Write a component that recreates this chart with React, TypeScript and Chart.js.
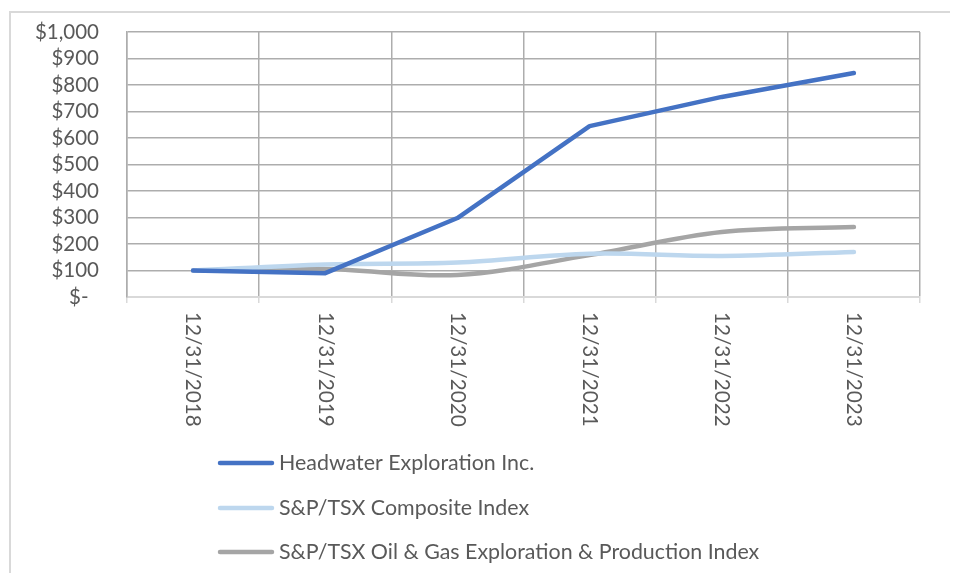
import React, { useEffect, useRef } from "react";
import { Chart, registerables } from "chart.js";

Chart.register(...registerables);

const categories = ["12/31/2018", "12/31/2019", "12/31/2020", "12/31/2021", "12/31/2022", "12/31/2023"];
const headwater = [100, 90, 298, 645, 755, 845];
const composite = [100, 123, 130, 163, 155, 170];
const oilGas = [100, 106, 83, 158, 245, 264];
const seriesNames = [
  "Headwater Exploration Inc.",
  "S&P/TSX Composite Index",
  "S&P/TSX Oil & Gas Exploration & Production Index",
];
const seriesColors = ["#4472C4", "#BDD7EE", "#A5A5A5"];
const yTickLabels = ["$-  ", "$100", "$200", "$300", "$400", "$500", "$600", "$700", "$800", "$900", "$1,000"];

const FONT = "Lato";
const TEXT = "#595959";

const customPlugin = {
  id: "customDraw",
  beforeDraw(chart: any) {
    const ctx = chart.ctx;
    ctx.save();
    ctx.strokeStyle = "#D9D9D9";
    ctx.lineWidth = 2;
    ctx.beginPath();
    ctx.moveTo(2, chart.height);
    ctx.lineTo(2, 4);
    ctx.lineTo(chart.width, 4);
    ctx.stroke();
    ctx.restore();
  },
  afterDraw(chart: any) {
    const ctx = chart.ctx;
    const xs = chart.scales.x;
    ctx.save();
    ctx.fillStyle = TEXT;
    ctx.font = `20.7px ${FONT}`;
    categories.forEach((lab, i) => {
      const x = xs.getPixelForValue(i);
      ctx.save();
      ctx.translate(x, xs.top + 15);
      ctx.rotate(Math.PI / 2);
      ctx.textAlign = "left";
      ctx.textBaseline = "middle";
      ctx.fillText(lab, 0, 0);
      ctx.restore();
    });
    const rows = [455, 500, 544];
    ctx.font = `21.4px ${FONT}`;
    chart.data.datasets.forEach((ds: any, i: number) => {
      const y = rows[i];
      ctx.strokeStyle = ds.borderColor;
      ctx.lineWidth = 4.5;
      ctx.lineCap = "round";
      ctx.beginPath();
      ctx.moveTo(212, y);
      ctx.lineTo(264, y);
      ctx.stroke();
      ctx.textAlign = "left";
      ctx.textBaseline = "middle";
      ctx.fillText(ds.label, 271, y);
    });
    ctx.restore();
  },
};

export default function App() {
  const ref = useRef<HTMLCanvasElement>(null);
  useEffect(() => {
    if (!ref.current) return;
    const data = [headwater, composite, oilGas];
    const chart = new Chart(ref.current, {
      type: "line",
      data: {
        labels: categories,
        datasets: data.map((d, i) => ({
          label: seriesNames[i],
          data: d,
          borderColor: seriesColors[i],
          backgroundColor: seriesColors[i],
          borderWidth: 4.5,
          pointRadius: 0,
          borderCapStyle: "round" as const,
          borderJoinStyle: "round" as const,
          tension: i === 0 ? 0 : 0.35,
        })),
      },
      options: {
        animation: false,
        responsive: true,
        maintainAspectRatio: false,
        layout: { padding: { top: 24, right: 30, left: 0, bottom: 0 } },
        plugins: { legend: { display: false }, tooltip: { enabled: false } },
        scales: {
          x: {
            type: "category",
            offset: true,
            grid: {
              offset: true,
              color: "#ADADAD",
              lineWidth: 1.5,
              tickColor: "#D9D9D9",
              tickLength: 6,
            },
            border: { color: "#D9D9D9", width: 2 },
            ticks: { display: false },
            afterFit: (s: any) => {
              s.height = 276;
              s.paddingLeft = 0;
              s.paddingRight = 0;
            },
          },
          y: {
            min: 0,
            max: 1000,
            grid: {
              drawTicks: false,
              color: (c: any) => (c.tick && c.tick.value === 0 ? "rgba(0,0,0,0)" : "#ADADAD"),
              lineWidth: 1.5,
            },
            border: { color: "#ADADAD", width: 1.5 },
            ticks: {
              stepSize: 100,
              autoSkip: false,
              padding: 28,
              color: TEXT,
              font: { family: FONT, size: 20.5 },
              callback: (v: any) => yTickLabels[Math.round(Number(v) / 100)],
            },
            afterFit: (s: any) => {
              s.width = 119;
              s.paddingTop = 0;
              s.paddingBottom = 0;
            },
          },
        },
      },
      plugins: [customPlugin],
    });
    return () => chart.destroy();
  }, []);
  return (
    <div style={{ width: 942, height: 565, position: "relative" }}>
      <canvas ref={ref} />
    </div>
  );
}
